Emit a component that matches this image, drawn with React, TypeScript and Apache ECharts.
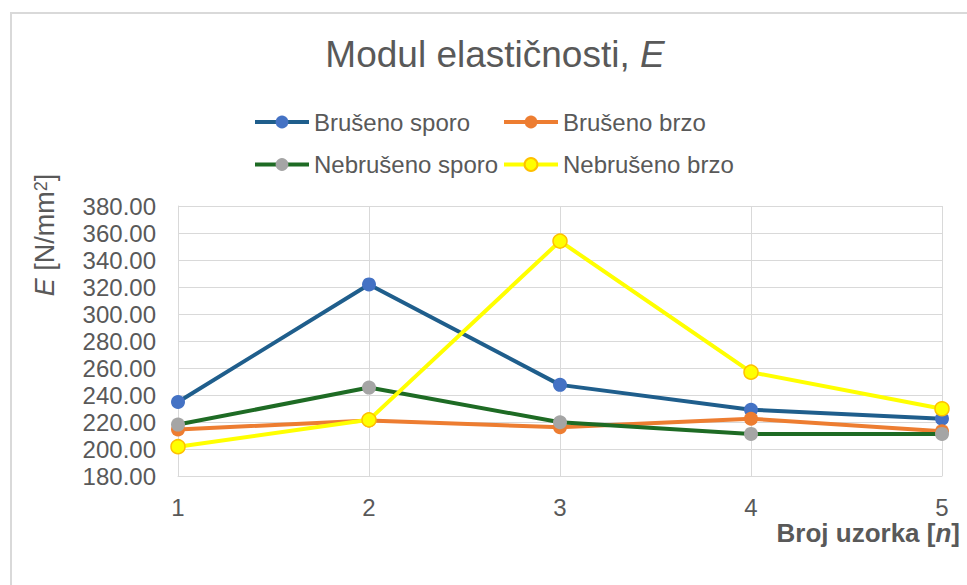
import React, { useEffect, useRef } from "react";
import * as echarts from "echarts";

const categories = ["1", "2", "3", "4", "5"];
const seriesNames = ["Brušeno sporo", "Brušeno brzo", "Nebrušeno sporo", "Nebrušeno brzo"];
const brusenoSporo = [234.8, 321.9, 247.5, 229.1, 222.4];
const brusenoBrzo = [214.4, 221.1, 216.1, 222.4, 213.1];
const nebrusenoSporo = [218.1, 245.5, 219.8, 211.2, 211.2];
const nebrusenoBrzo = [201.7, 221.6, 354.0, 256.9, 229.8];
const yMin = 180;
const yMax = 380;
const yStep = 20;

const FONT = "'Liberation Sans', Arial, sans-serif";
const TXT = "#595959";
const GRID = "#D9D9D9";

export default function App() {
  const ref = useRef<HTMLDivElement>(null);
  useEffect(() => {
    if (!ref.current) return;
    const chart = echarts.init(ref.current, null, { renderer: "svg" });
    const mk = (
      name: string,
      data: number[],
      line: string,
      marker: string,
      border?: string
    ) => ({
      name,
      type: "line",
      data,
      symbol: "circle",
      symbolSize: 14,
      lineStyle: { color: line, width: 4 },
      itemStyle: {
        color: marker,
        borderColor: border || marker,
        borderWidth: border ? 1.5 : 0,
      },
      emphasis: { disabled: true },
    });
    const legendBase = {
      orient: "vertical",
      itemWidth: 54,
      itemHeight: 16,
      itemGap: 18.5,
      top: 105,
      lineStyle: { width: 4 },
      textStyle: { fontSize: 24, color: TXT, fontFamily: FONT, lineHeight: 24 },
    };
    chart.setOption({
      animation: false,
      textStyle: { fontFamily: FONT },
      grid: { left: 178, right: 25, top: 206, bottom: 109 },
      legend: [
        { ...legendBase, left: 248, data: [seriesNames[0], seriesNames[2]] },
        { ...legendBase, left: 497, data: [seriesNames[1], seriesNames[3]] },
      ],
      xAxis: {
        type: "category",
        data: categories,
        boundaryGap: false,
        axisLine: { show: true, lineStyle: { color: GRID } },
        axisTick: { show: false },
        splitLine: { show: true, lineStyle: { color: GRID, width: 1 } },
        axisLabel: { fontSize: 24, color: TXT, margin: 19, fontFamily: FONT },
      },
      yAxis: {
        type: "value",
        min: yMin,
        max: yMax,
        interval: yStep,
        axisLine: { show: true, lineStyle: { color: GRID } },
        axisTick: { show: false },
        splitLine: { show: true, lineStyle: { color: GRID, width: 1 } },
        axisLabel: {
          fontSize: 24,
          color: TXT,
          margin: 22,
          fontFamily: FONT,
          formatter: (v: number) => v.toFixed(2),
        },
      },
      graphic: [
        {
          type: "rect",
          silent: true,
          shape: { x: 11, y: 13, width: 1100, height: 1000 },
          style: { fill: "none", stroke: GRID, lineWidth: 2 },
        },
        {
          type: "text",
          x: 495,
          y: 54,
          style: {
            text: "Modul elastičnosti, {i|E}",
            fontSize: 37,
            fontFamily: FONT,
            fill: TXT,
            align: "center",
            verticalAlign: "middle",
            rich: {
              i: { fontSize: 37, fontStyle: "italic", fontFamily: FONT, fill: TXT },
            },
          },
        },
        {
          type: "text",
          x: 45,
          y: 235,
          rotation: Math.PI / 2,
          style: {
            text: "{i|E} [N/mm{s|2}]",
            fontSize: 27,
            fontFamily: FONT,
            fill: TXT,
            align: "center",
            verticalAlign: "middle",
            rich: {
              i: { fontSize: 27, fontStyle: "italic", fontFamily: FONT, fill: TXT },
              s: { fontSize: 18, fontFamily: FONT, fill: TXT, verticalAlign: "top" },
            },
          },
        },
        {
          type: "text",
          x: 960,
          y: 533,
          style: {
            text: "Broj uzorka [{i|n}]",
            fontSize: 26,
            fontWeight: "bold",
            fontFamily: FONT,
            fill: TXT,
            align: "right",
            verticalAlign: "middle",
            rich: {
              i: {
                fontSize: 26,
                fontWeight: "bold",
                fontStyle: "italic",
                fontFamily: FONT,
                fill: TXT,
              },
            },
          },
        },
      ],
      series: [
        mk(seriesNames[0], brusenoSporo, "#1F5E8C", "#4472C4"),
        mk(seriesNames[1], brusenoBrzo, "#ED7D31", "#ED7D31"),
        mk(seriesNames[2], nebrusenoSporo, "#1E6B24", "#A5A5A5"),
        mk(seriesNames[3], nebrusenoBrzo, "#FFFF00", "#FFFF00", "#FFC000"),
      ],
    });
    return () => chart.dispose();
  }, []);
  return (
    <div
      ref={ref}
      style={{ position: "fixed", left: 0, top: 0, width: 967, height: 585, background: "#fff" }}
    />
  );
}
